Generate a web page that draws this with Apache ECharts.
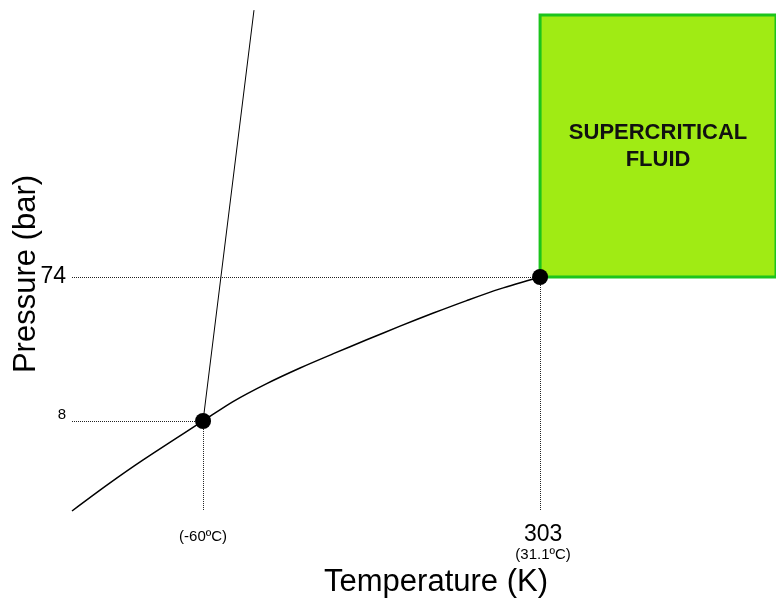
<!DOCTYPE html>
<html>
<head>
<meta charset="utf-8">
<script src="https://cdn.jsdelivr.net/npm/echarts@6.0.0/dist/echarts.min.js"></script>
<style>
html,body{margin:0;padding:0;background:#fff;}
#chart{width:776px;height:606px;}
</style>
</head>
<body>
<div id="chart"></div>
<script>
// Temperature (K) and pressure (bar)
const vaporT = [178, 187.6, 197, 213, 221, 230, 238.9, 247.8, 256.7, 265.6, 274.5, 283.4, 292.3, 303];
const vaporP = [1.99, 3.0, 4.38, 8, 10.8, 14.26, 18.15, 22.63, 28.05, 34.61, 42.38, 51.39, 61.57, 74];
const meltT = [213, 226.6];
const meltP = [8, 4570];
const pointT = [213, 303];          // triple point, critical point
const pointP = [8, 74];
const xTicks = [213, 303];
const xTickText = ['(-60ºC)', '303'];
const xTickSub = ['', '(31.1ºC)'];
const yTicks = [8, 74];
const yTickText = ['8', '74'];
const regionLabel = 'SUPERCRITICAL\nFLUID';
const xRange = [178, 366];
const yRange = [1.96, 4580];
const regionTop = 4238;

const FONT = "'Liberation Sans', Arial, sans-serif";
const chart = echarts.init(document.getElementById('chart'));

const zip = (a, b) => a.map((v, i) => [v, b[i]]);

chart.setOption({
  animation: false,
  backgroundColor: '#fff',
  grid: { left: 72, right: 0, top: 10, bottom: 94, containLabel: false, outerBoundsMode: 'none' },
  xAxis: {
    type: 'value',
    min: xRange[0], max: xRange[1],
    axisLine: { show: false }, axisTick: { show: false }, splitLine: { show: false },
    axisLabel: {
      customValues: xTicks,
      margin: 12,
      fontFamily: FONT,
      color: '#000',
      formatter: function (v) {
        const i = xTicks.findIndex(t => Math.abs(t - v) < 0.01);
        if (i < 0) return '';
        if (xTickSub[i]) return '{b|' + xTickText[i] + '}\n{s|' + xTickSub[i] + '}';
        return '{sb|' + xTickText[i] + '}';
      },
      rich: {
        b: { fontSize: 23, lineHeight: 22, fontFamily: FONT, color: '#000', padding: [0, 0, 0, 6] },
        s: { fontSize: 15, lineHeight: 18, fontFamily: FONT, color: '#000', padding: [0, 0, 0, 6] },
        sb: { fontSize: 15, lineHeight: 26, fontFamily: FONT, color: '#000' }
      }
    },
    name: 'Temperature (K)',
    nameLocation: 'middle',
    nameGap: 55,
    nameMoveOverlap: false,
    nameTextStyle: { fontSize: 31, fontFamily: FONT, color: '#000', padding: [0, 0, 0, 24] }
  },
  yAxis: {
    type: 'log',
    logBase: 10,
    min: yRange[0], max: yRange[1],
    axisLine: { show: false }, axisTick: { show: false }, splitLine: { show: false },
    axisLabel: {
      customValues: yTicks,
      margin: 6,
      fontFamily: FONT,
      color: '#000',
      formatter: function (v) {
        const i = yTicks.findIndex(t => Math.abs(t - v) < 0.01 * t);
        if (i < 0) return '';
        return i === 0 ? '{s|' + yTickText[i] + '}' : '{b|' + yTickText[i] + '}';
      },
      rich: {
        b: { fontSize: 23, fontFamily: FONT, color: '#000' },
        s: { fontSize: 15, fontFamily: FONT, color: '#000', padding: [0, 0, 12, 0] }
      }
    },
    name: 'Pressure (bar)',
    nameLocation: 'middle',
    nameGap: 30,
    nameMoveOverlap: false,
    nameTextStyle: { fontSize: 31, fontFamily: FONT, color: '#000', padding: [0, 26, 0, 0] }
  },
  series: [
    {
      type: 'line',
      name: 'vapor',
      data: zip(vaporT, vaporP),
      smooth: 0.3,
      symbol: 'none',
      lineStyle: { color: '#000', width: 1.5 },
      z: 3,
      markArea: {
        silent: true,
        itemStyle: { color: '#a0eb14', borderColor: '#1cc41c', borderWidth: 3 },
        label: {
          show: true, position: 'inside', formatter: regionLabel,
          fontFamily: FONT, fontWeight: 'bold', fontSize: 22, lineHeight: 27, color: '#111', align: 'center'
        },
        data: [[{ coord: [pointT[1], pointP[1]] }, { coord: [xRange[1], regionTop] }]]
      },
      markLine: {
        silent: true,
        symbol: ['none', 'none'],
        label: { show: false },
        lineStyle: { type: 'dotted', color: '#222', width: 1 },
        data: [
          [{ coord: [xRange[0], pointP[0]] }, { coord: [pointT[0], pointP[0]] }],
          [{ coord: [xRange[0], pointP[1]] }, { coord: [pointT[1], pointP[1]] }],
          [{ coord: [pointT[0], pointP[0]] }, { coord: [pointT[0], vaporP[0]] }],
          [{ coord: [pointT[1], pointP[1]] }, { coord: [pointT[1], vaporP[0]] }]
        ]
      }
    },
    {
      type: 'line',
      name: 'melting',
      data: zip(meltT, meltP),
      symbol: 'none',
      lineStyle: { color: '#000', width: 1 },
      z: 3
    },
    {
      type: 'scatter',
      name: 'points',
      data: zip(pointT, pointP),
      symbolSize: 16,
      itemStyle: { color: '#000', opacity: 1 },
      z: 5
    }
  ]
});
</script>
</body>
</html>
